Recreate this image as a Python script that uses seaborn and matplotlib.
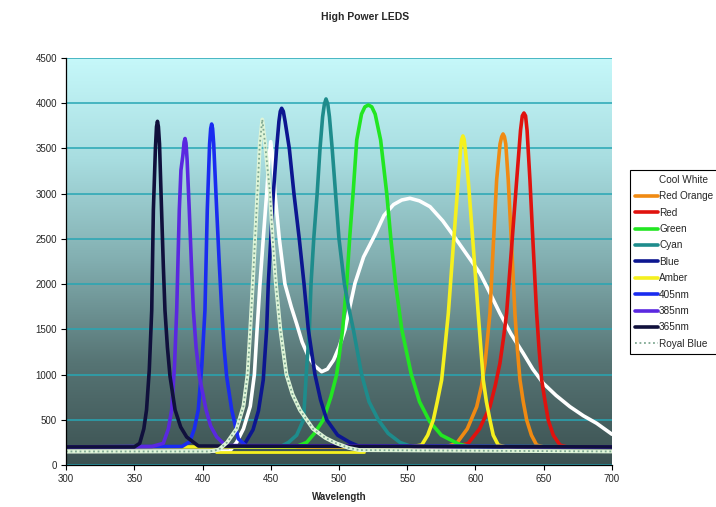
import numpy as np
import matplotlib
matplotlib.use("Agg")
import matplotlib.pyplot as plt
import seaborn as sns
from matplotlib.colors import LinearSegmentedColormap

# -------------------- Data --------------------
# wavelength in nm, intensity in chart units
cool_white_wl = [300, 420, 425, 430, 435, 438, 440, 442.1, 444.5, 447, 448.8, 450, 451.5, 453.1,
                 456.3, 460.4, 465, 469, 473, 477, 482, 487.3, 491.5, 496, 500, 504.4, 511.7,
                 518, 526.4, 533, 540, 546, 552, 559, 566.7, 576, 586.2, 594, 603.3, 610, 617.9,
                 626, 635, 642, 649.7, 659, 669.2, 679, 688.8, 700]
cool_white_val = [150, 155, 250, 400, 650, 1000, 1500, 2000, 2500, 3000, 3400, 3575, 3400, 3000,
                  2500, 2000, 1750, 1560, 1360, 1220, 1100, 1032, 1060, 1160, 1300, 1500, 2009,
                  2300, 2546, 2760, 2880, 2930, 2949, 2920, 2856, 2700, 2488, 2320, 2120, 1920, 1677,
                  1450, 1235, 1060, 903, 770, 645, 545, 461, 340]

red_orange_wl = [300, 578, 586.2, 594, 600.9, 604.5, 607, 610.6, 613, 615.5, 618, 619.2, 620.2,
                 621.2, 622.2, 624, 626.5, 628.9, 630.7, 632.6, 635, 637.5, 641, 644.8, 650, 700]
red_orange_val = [200, 200, 240, 400, 645, 880, 1124, 1677, 2414, 3151, 3550, 3630, 3660,
                  3630, 3550, 3151, 2414, 1677, 1280, 940, 700, 498, 330, 221, 200, 200]

red_wl = [300, 585, 594.7, 603, 610.6, 614.5, 617.9, 620.5, 622.8, 626.5, 630.2, 633, 634.3,
          635.5, 636.7, 637.8, 639.9, 642.3, 644.8, 646.6, 648.5, 651, 653.3, 657, 661.9, 667, 700]
red_val = [200, 200, 240, 400, 645, 880, 1124, 1400, 1677, 2414, 3151, 3700, 3860,
           3892, 3860, 3700, 3151, 2414, 1677, 1280, 940, 700, 498, 330, 221, 200, 200]

green_wl = [300, 468, 476.3, 482, 488.5, 494, 498.3, 502.7, 505.6, 508, 510.5, 513, 516.5, 519,
            521.5, 524, 526.5, 530.5, 535, 538, 541.5, 546, 553, 559, 566.5, 575, 588, 596, 700]
green_val = [200, 200, 250, 350, 500, 750, 1000, 1500, 2000, 2546, 3041, 3594, 3880, 3960,
             3980, 3960, 3880, 3594, 3000, 2500, 2000, 1500, 1000, 700, 480, 330, 230, 205, 200]

cyan_wl = [300, 452, 458, 463, 469, 474, 476, 478.3, 479.5, 481.5, 484, 486.1, 488, 489.3,
           490.5, 491.8, 493, 495, 497.5, 500, 504, 507, 510.5, 516.6, 522, 528.8, 536, 544.7,
           552, 700]
cyan_val = [200, 200, 210, 250, 330, 500, 1000, 1500, 2000, 2500, 3000, 3500, 3850, 3990,
            4047, 3990, 3850, 3500, 3000, 2500, 2000, 1750, 1500, 1000, 700, 500, 350, 250,
            210, 200]

blue_wl = [300, 422, 430, 437, 441, 444.5, 447, 448.2, 450, 451.9, 454.3, 456, 457, 458, 459.2,
           460.5, 463.6, 467, 470.9, 474.4, 477.5, 482.4, 486.5, 491, 499, 508, 515, 700]
blue_val = [200, 200, 210, 390, 600, 940, 1500, 2000, 2500, 3000, 3500, 3800, 3910, 3944, 3910,
            3800, 3500, 3000, 2500, 2000, 1500, 1000, 720, 500, 330, 250, 205, 200]

amber_wl = [300, 552, 560.6, 565, 569.1, 572, 575.2, 577.5, 580.1, 583.7, 587.4, 589, 589.9,
            590.8, 591.7, 592.6, 594.7, 598.4, 602, 604, 605.7, 608, 610.6, 613, 616.7, 622, 700]
amber_val = [200, 200, 221, 330, 498, 700, 940, 1280, 1677, 2414, 3151, 3480, 3600,
             3638, 3600, 3480, 3151, 2414, 1677, 1280, 940, 700, 498, 330, 221, 200, 200]
amber_floor_wl = [410, 518]
amber_floor_val = [145, 145]

nm405_wl = [300, 385, 390.8, 394, 396.9, 399.5, 401.8, 403.5, 405.2, 406, 406.7, 407.4, 408.2,
            410.4, 412.2, 414.1, 415.8, 417.7, 421.4, 426.2, 432, 700]
nm405_val = [200, 205, 260, 400, 610, 1100, 1710, 2820, 3550, 3720, 3770, 3720, 3550,
             2820, 2250, 1710, 1300, 980, 610, 290, 210, 200]

nm385_wl = [300, 363, 371.3, 375, 377.4, 379.5, 381.1, 383, 384.2, 385.6, 386.5, 387.2, 387.9,
            388.7, 390.3, 391.8, 393.3, 395.3, 397.7, 402.6, 406, 410.4, 417, 700]
nm385_val = [200, 205, 240, 400, 610, 1100, 1710, 2820, 3260, 3420, 3570, 3610, 3560,
             3380, 2820, 2250, 1710, 1300, 980, 610, 430, 310, 215, 200]

nm365_wl = [300, 350, 354, 357, 359, 361, 362.8, 364, 365.5, 366.3, 367, 367.7, 368.5, 370,
            371.3, 372.5, 374.3, 376.2, 379.9, 384, 388.4, 397, 700]
nm365_val = [200, 200, 240, 400, 610, 1050, 1710, 2820, 3500, 3740, 3800, 3740, 3550, 2820,
             2200, 1710, 1300, 980, 610, 420, 310, 210, 200]

royal_blue_wl = [300, 405, 412, 418, 425, 430, 433, 435, 436.8, 438.5, 440.2, 442, 443.8, 445.5,
                 447.5, 449.5, 451.4, 453.8, 457, 461.5, 466, 471.4, 481, 490, 498, 507, 515, 700]
royal_blue_val = [150, 150, 170, 250, 400, 650, 1000, 1500, 2000, 2500, 3000, 3550, 3820, 3600,
                  3300, 3000, 2500, 2000, 1500, 1000, 780, 608, 400, 300, 240, 190, 165, 150]

x_ticks = [300, 350, 400, 450, 500, 550, 600, 650, 700]
y_ticks = [0, 500, 1000, 1500, 2000, 2500, 3000, 3500, 4000, 4500]

# -------------------- Style --------------------
sns.set_style("ticks")
plt.rcParams["font.family"] = ["Liberation Sans", "DejaVu Sans"]

series = [
    ("Cool White", cool_white_wl, cool_white_val, "#ffffff"),
    ("Red Orange", red_orange_wl, red_orange_val, "#f08a12"),
    ("Red", red_wl, red_val, "#e0120e"),
    ("Green", green_wl, green_val, "#22e622"),
    ("Cyan", cyan_wl, cyan_val, "#1e8c8c"),
    ("Blue", blue_wl, blue_val, "#0c1690"),
    ("Amber", amber_wl, amber_val, "#f5f01e"),
    ("405nm", nm405_wl, nm405_val, "#1a2cf0"),
    ("385nm", nm385_wl, nm385_val, "#5a28e0"),
    ("365nm", nm365_wl, nm365_val, "#10103c"),
]

fig = plt.figure(figsize=(7.16, 5.07), dpi=100)
ax = fig.add_axes([0.0922, 0.0828, 0.7625, 0.8028])

# gradient plot background
bg_cmap = LinearSegmentedColormap.from_list(
    "bg", ["#3c5252", "#567474", "#82aeb0", "#a8dde0", "#c6f8fa"])
grad = np.linspace(0, 1, 256).reshape(-1, 1)
ax.imshow(grad, cmap=bg_cmap, origin="lower", extent=[300, 700, 0, 4500],
          aspect="auto", zorder=0)

line_kw = dict(sort=False, estimator=None, solid_joinstyle="round",
               solid_capstyle="round")

for name, wl, val, col in series:
    sns.lineplot(x=wl, y=val, ax=ax, color=col, linewidth=2.6, label=name, **line_kw)

sns.lineplot(x=amber_floor_wl, y=amber_floor_val, ax=ax, color="#f5f01e",
             linewidth=2, **line_kw)

# royal blue: pale line with dots on it
sns.lineplot(x=royal_blue_wl, y=royal_blue_val, ax=ax, color="#dff5d8",
             linewidth=2.8, **line_kw)
sns.lineplot(x=royal_blue_wl, y=royal_blue_val, ax=ax, color="#7fa892",
             linewidth=1.3, linestyle=(0, (1, 1.5)), label="Royal Blue",
             sort=False, estimator=None)

ax.set_xlim(300, 700)
ax.set_ylim(0, 4500)
ax.set_xticks(x_ticks)
ax.set_yticks(y_ticks)
ax.tick_params(axis="both", direction="out", length=3.5, width=0.8,
               color="black", labelsize=7, pad=3)
ax.yaxis.grid(True, color="#27a6b4", linewidth=1.1)
ax.set_axisbelow(True)
sns.despine(ax=ax)
for s in ["left", "bottom"]:
    ax.spines[s].set_color("black")
    ax.spines[s].set_linewidth(0.9)

ax.set_xlabel("Wavelength", fontsize=7, fontweight="bold", labelpad=6)
ax.set_ylabel("")
fig.text(0.51, 0.966, "High Power LEDS", ha="center", va="center",
         fontsize=7.5, fontweight="bold")

# legend runs off the right edge of the figure, as in the original
leg = ax.legend(loc="upper left", bbox_to_anchor=(0.88, 0.665),
                bbox_transform=fig.transFigure, borderaxespad=0,
                fontsize=7.2, handlelength=2.3, handletextpad=0.1,
                labelspacing=0.64, borderpad=0.5, fancybox=False,
                framealpha=1, edgecolor="black", facecolor="white")
leg.get_frame().set_linewidth(0.8)

fig.savefig("out.png", dpi=100)
